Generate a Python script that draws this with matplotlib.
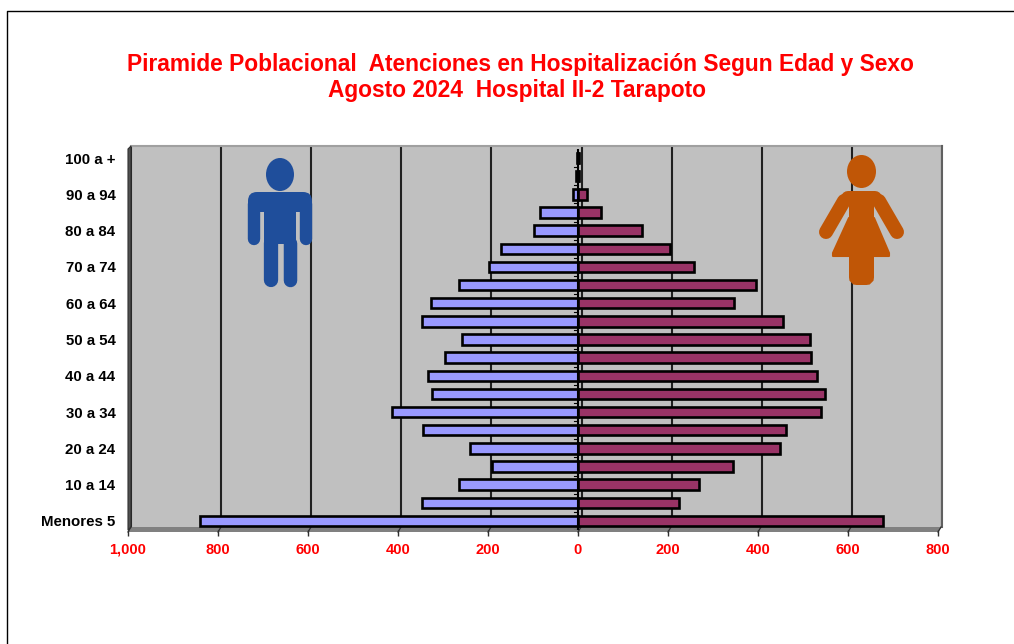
import matplotlib
matplotlib.use("Agg")
import matplotlib.pyplot as plt
from matplotlib.patches import Ellipse, FancyBboxPatch, Polygon, Rectangle
from matplotlib.ticker import FuncFormatter

plt.rcParams["font.family"] = ["Liberation Sans", "DejaVu Sans"]

# ── Data, youngest group first ────────────────────────────────────────────────
age_labels = ["Menores 5", "", "10 a 14", "", "20 a 24", "", "30 a 34", "",
              "40 a 44", "", "50 a 54", "", "60 a 64", "", "70 a 74", "",
              "80 a 84", "", "90 a 94", "", "100 a +"]
hombres = [840, 347, 264, 191, 240, 344, 413, 324, 333, 296, 258,
           347, 327, 264, 198, 171, 98, 84, 11, 4, 2]
mujeres = [678, 224, 269, 344, 449, 462, 540, 549, 531, 518, 516,
           456, 347, 396, 258, 204, 142, 51, 20, 3, 2]
x_ticks = [-1000, -800, -600, -400, -200, 0, 200, 400, 600, 800]

title_1 = "Piramide Poblacional  Atenciones en Hospitalización Segun Edad y Sexo"
title_2 = "Agosto 2024  Hospital II-2 Tarapoto"

W, H = 1014, 644
fig = plt.figure(figsize=(W / 100, H / 100), dpi=100, facecolor="white")


def px_axes(left, top, right, bottom, **kw):
    """Axes placed by pixel edges, measured from the top left of the image."""
    return fig.add_axes([left / W, 1 - bottom / H, (right - left) / W, (bottom - top) / H], **kw)


# ── Back wall of the fake 3D box, shifted up and right from the bars ──────────
wall = px_axes(131, 146, 942, 527, facecolor="#C0C0C0", zorder=1)
wall.set_xlim(-1000, 800)
wall.set_ylim(0, 1)
wall.set_xticks(x_ticks)
wall.set_yticks([])
wall.tick_params(length=0, labelbottom=False)
wall.grid(axis="x", color="#202020", linewidth=1.5)
wall.set_axisbelow(True)
for name, spine in wall.spines.items():
    spine.set_visible(name == "top")
    spine.set_color("#A0A0A0")
    spine.set_linewidth(1.5)

# ── Pixel overlay for frame, floor and the two icons ──────────────────────────
over = fig.add_axes([0, 0, 1, 1], zorder=2, facecolor="none")
over.set_xlim(0, W)
over.set_ylim(H, 0)
over.axis("off")
over.plot([6.5, 6.5, W], [H, 10.5, 10.5], color="black", linewidth=1)
over.add_patch(Polygon([(128, 530), (131, 527), (942, 527), (938, 532), (128, 532)],
                       facecolor="#808080", edgecolor="none"))
over.add_patch(Polygon([(128, 149), (131, 146), (131, 527), (128, 530)],
                       facecolor="#505050", edgecolor="#303030", linewidth=0.8))
over.plot([942, 942], [146, 527], color="#606060", linewidth=1.5)
# little slanted joins between wall gridlines and the tick marks
for t in x_ticks:
    tx = 128 + (t + 1000) * 810 / 1800
    over.plot([tx + 3, tx], [527, 532], color="#303030", linewidth=0.9)


def limb(xs, ys, width, color):
    over.plot(xs, ys, color=color, linewidth=width * 0.72, solid_capstyle="round")


man = "#1F4E9B"
over.add_patch(Ellipse((280, 174.5), 28, 33, facecolor=man, edgecolor="none"))
over.add_patch(FancyBboxPatch((248, 192), 64, 20, boxstyle="round,pad=0,rounding_size=9",
                              facecolor=man, edgecolor="none"))
over.add_patch(Rectangle((264, 200), 32, 44, facecolor=man, edgecolor="none"))
limb([254.2, 254.2], [204, 239], 12.4, man)
limb([305.8, 305.8], [204, 239], 12.4, man)
limb([271, 271], [243, 280], 14.3, man)
limb([289.5, 289.5], [243, 280], 13.5, man)

woman = "#C05606"
over.add_patch(Ellipse((861.5, 171.5), 29, 33, facecolor=woman, edgecolor="none"))
over.add_patch(Rectangle((849, 195), 25, 25, facecolor=woman, edgecolor="none"))
limb([848, 875], [198, 198], 14, woman)
limb([844, 826], [201, 232], 14, woman)
limb([879, 897], [201, 232], 14, woman)
over.add_patch(Polygon([(849, 218), (874, 218), (889, 253), (889, 256), (833, 256), (833, 253)],
                       facecolor=woman, edgecolor=woman, linewidth=1.5, joinstyle="round"))
over.add_patch(FancyBboxPatch((854, 250), 15, 30, boxstyle="round,pad=0,rounding_size=3",
                              facecolor=woman, edgecolor=woman, linewidth=10 * 0.72))

# ── Bars in front ─────────────────────────────────────────────────────────────
ax = px_axes(128, 149, 938, 530, facecolor="none", zorder=3)
y_pos = list(range(len(age_labels)))
ax.barh(y_pos, [-v for v in hombres], height=0.58, color="#9999FF",
        edgecolor="black", linewidth=1.9)
ax.barh(y_pos, mujeres, height=0.58, color="#993366",
        edgecolor="black", linewidth=1.9)
ax.set_xlim(-1000, 800)
ax.set_ylim(-0.5, len(age_labels) - 0.5)
ax.set_xticks(x_ticks)
ax.xaxis.set_major_formatter(FuncFormatter(lambda v, _: f"{abs(v):,.0f}"))
ax.set_yticks(y_pos)
ax.set_yticklabels(age_labels)
ax.tick_params(axis="x", length=4.5, width=1, color="#303030", labelcolor="#FF0000",
               labelsize=10.5, pad=4.5)
ax.tick_params(axis="y", length=0, labelsize=10.8, pad=9)
for lbl in ax.get_xticklabels() + ax.get_yticklabels():
    lbl.set_fontweight("bold")
for spine in ax.spines.values():
    spine.set_visible(False)
# vertical category axis sits on zero, tick marks to the left
ax.axvline(0, color="black", linewidth=1.5)
for y in y_pos:
    ax.plot([-8, 0], [y - 0.5, y - 0.5], color="black", linewidth=0.8, zorder=1)

fig.text(520.5 / W, 1 - 64.5 / H, title_1, color="#FF0000", fontsize=16.4, fontweight="bold",
         ha="center", va="center")
fig.text(517 / W, 1 - 91 / H, title_2, color="#FF0000", fontsize=16.4, fontweight="bold",
         ha="center", va="center")

fig.savefig("out.png", dpi=100)
